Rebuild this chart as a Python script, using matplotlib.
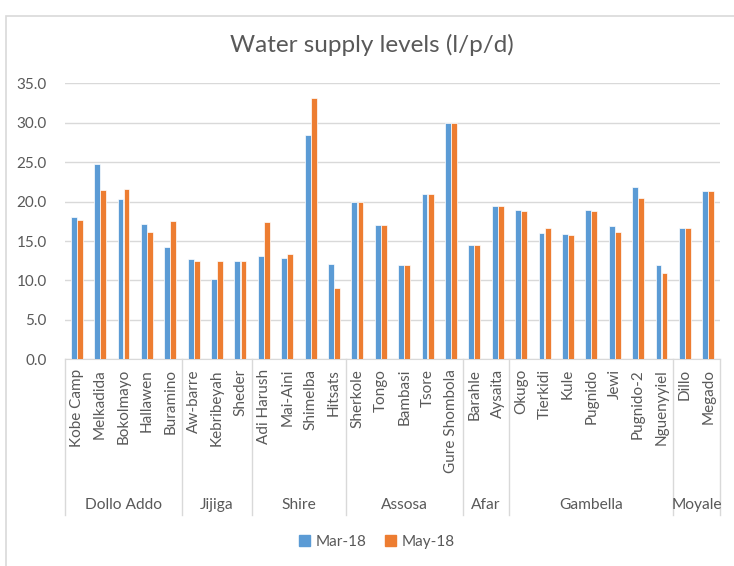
import matplotlib.pyplot as plt
from matplotlib.patches import Patch, Rectangle
import numpy as np

plt.rcParams["font.family"] = ["Lato", "DejaVu Sans"]

# camps and their regions
camps = ["Kobe Camp", "Melkadida", "Bokolmayo", "Hallawen", "Buramino",
         "Aw-barre", "Kebribeyah", "Sheder",
         "Adi Harush", "Mai-Aini", "Shimelba", "Hitsats",
         "Sherkole", "Tongo", "Bambasi", "Tsore", "Gure Shombola",
         "Barahle", "Aysaita",
         "Okugo", "Tierkidi", "Kule", "Pugnido", "Jewi", "Pugnido-2", "Nguenyyiel",
         "Dillo", "Megado"]
regions = ["Dollo Addo", "Jijiga", "Shire", "Assosa", "Afar", "Gambella", "Moyale"]
region_sizes = [5, 3, 4, 5, 2, 7, 2]

mar_18 = [18.0, 24.8, 20.3, 17.2, 14.2,
          12.7, 10.2, 12.5,
          13.1, 12.9, 28.4, 12.1,
          20.0, 17.0, 11.9, 21.0, 30.0,
          14.45, 19.4,
          18.9, 16.0, 15.85, 18.9, 16.95, 21.8, 11.9,
          16.7, 21.4]
may_18 = [17.7, 21.5, 21.6, 16.1, 17.5,
          12.5, 12.5, 12.5,
          17.4, 13.4, 33.1, 9.1,
          20.0, 17.0, 11.9, 21.0, 30.0,
          14.45, 19.4,
          18.8, 16.6, 15.7, 18.8, 16.2, 20.4, 10.9,
          16.7, 21.4]

blue = "#5B9BD5"
orange = "#ED7D31"
grey_text = "#595959"
grid_col = "#D9D9D9"

fig = plt.figure(figsize=(7.34, 5.66), dpi=100)
ax = fig.add_axes([65 / 734, 1 - 359.3 / 566, 655 / 734, 276 / 566])

# chart border (cut off at right and bottom like the screenshot)
fig.patches.append(Rectangle((5.5 / 734, -0.1), 1.2, (566 - 15.5) / 566 + 0.1,
                             transform=fig.transFigure, fill=False,
                             edgecolor="#D9D9D9", linewidth=1.2))

x = np.arange(len(camps))
w = 0.25
ax.bar(x - 0.13, mar_18, w, color=blue, edgecolor="white", linewidth=0.5, label="Mar-18", zorder=3)
ax.bar(x + 0.13, may_18, w, color=orange, edgecolor="white", linewidth=0.5, label="May-18", zorder=3)

ax.set_xlim(-0.5, len(camps) - 0.5)
ax.set_ylim(0, 35)
ax.set_yticks(np.arange(0, 35.1, 5))
ax.set_yticklabels([f"{v:.1f}" for v in np.arange(0, 35.1, 5)])
ax.grid(axis="y", color=grid_col, linewidth=1, zorder=0)
for s in ["top", "right", "left"]:
    ax.spines[s].set_visible(False)
ax.spines["bottom"].set_color(grid_col)

ax.set_xticks(x)
ax.set_xticklabels(camps, rotation=90, va="top", ha="center")
ax.tick_params(axis="x", length=0, pad=7, labelsize=11, labelcolor=grey_text)
ax.tick_params(axis="y", length=0, pad=13, labelsize=11, labelcolor=grey_text)

# region level of the axis
sep_bottom = -(515 - 359.3) / 276
label_y = -(505 - 359.3) / 276
trans = ax.get_xaxis_transform()
edges = np.concatenate([[0], np.cumsum(region_sizes)]) - 0.5
for e in edges:
    ax.plot([e, e], [0, sep_bottom], color=grid_col, linewidth=1,
            transform=trans, clip_on=False)
for name, a, b in zip(regions, edges[:-1], edges[1:]):
    ax.text((a + b) / 2, label_y, name, transform=trans, ha="center", va="center",
            fontsize=11.2, color=grey_text)

fig.text(372 / 734, 1 - 45 / 566, "Water supply levels (l/p/d)", ha="center", va="center",
         fontsize=17.5, color=grey_text)

handles = [Patch(color=blue, label="Mar-18"), Patch(color=orange, label="May-18")]
fig.legend(handles=handles, loc="center", bbox_to_anchor=(377 / 734, 1 - 542 / 566),
           ncol=2, frameon=False, fontsize=11, handlelength=0.7, handleheight=0.7,
           handletextpad=0.4, columnspacing=1.2, labelcolor=grey_text)

fig.savefig("out.png", dpi=100)
